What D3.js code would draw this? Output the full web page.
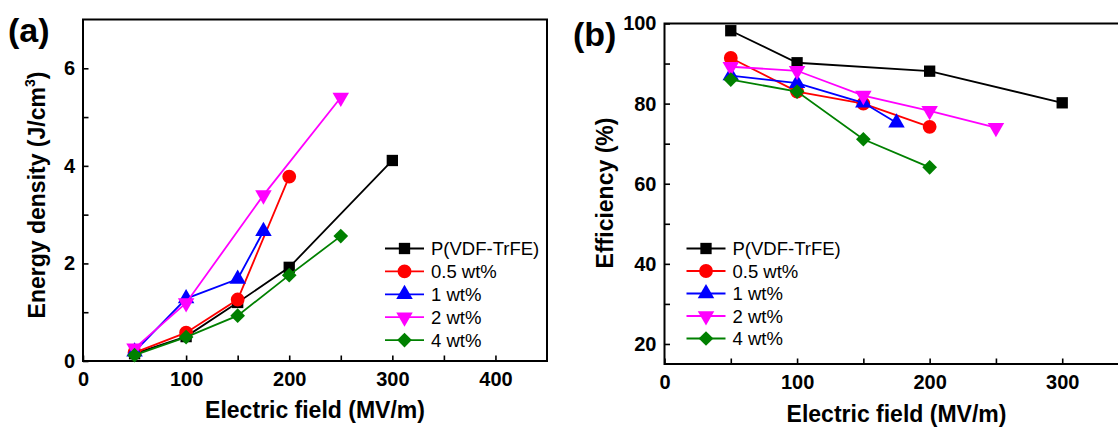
<!DOCTYPE html>
<html>
<head>
<meta charset="utf-8">
<script src="https://cdn.jsdelivr.net/npm/d3@7"></script>
<style>
  body { margin: 0; background: #fff; }
  svg { display: block; font-family: "Liberation Sans", Arial, Helvetica, sans-serif; }
</style>
</head>
<body>
<svg id="chart" width="1118" height="429"></svg>
<script>
// series shared by both panels
const seriesNames = ["P(VDF-TrFE)", "0.5 wt%", "1 wt%", "2 wt%", "4 wt%"];
const seriesColors = ["#000000", "#ff0000", "#0000ff", "#ff00ff", "#008000"];
const seriesSymbols = ["square", "circle", "triangle", "triangleDown", "diamond"];

// (a) energy density, J/cm3
const energyField = [
  [50, 100, 150, 200, 300],
  [50, 100, 150, 200],
  [50, 100, 150, 175],
  [50, 100, 175, 250],
  [50, 100, 150, 200, 250],
];
const energyValues = [
  [0.15, 0.5, 1.2, 1.92, 4.11],
  [0.17, 0.58, 1.26, 3.78],
  [0.19, 1.28, 1.68, 2.66],
  [0.26, 1.19, 3.4, 5.4],
  [0.12, 0.49, 0.93, 1.76, 2.56],
];

// (b) efficiency, %
const effField = [
  [50, 100, 200, 300],
  [50, 100, 150, 200],
  [50, 100, 150, 175],
  [50, 100, 150, 200, 250],
  [50, 100, 150, 200],
];
const effValues = [
  [98.2, 90.2, 88.1, 80.2],
  [91.4, 83, 80, 74.2],
  [87, 85.1, 80.2, 75.2],
  [89.2, 88.2, 82, 78.2, 74],
  [86, 83, 71.1, 64.1],
];

const xMajorA = [0, 100, 200, 300, 400];
const xMinorA = [50, 150, 250, 350];
const yMajorA = [0, 2, 4, 6];
const yMinorA = [1, 3, 5];
const xMajorB = [0, 100, 200, 300];
const xMinorB = [50, 150, 250];
const yMajorB = [20, 40, 60, 80, 100];
const yMinorB = [30, 50, 70, 90];

const svg = d3.select("#chart");

function symbolPath(kind) {
  const sym = d3.symbol();
  if (kind === "square") return sym.type(d3.symbolSquare).size(128)();
  if (kind === "circle") return sym.type(d3.symbolCircle).size(150)();
  if (kind === "diamond") return sym.type(d3.symbolSquare).size(108)();
  return sym.type(d3.symbolTriangle).size(118)();
}
function symbolRotate(kind) {
  if (kind === "diamond") return 45;
  if (kind === "triangleDown") return 180;
  return 0;
}

function drawMarker(sel, kind, color, x, y) {
  sel
    .append("path")
    .attr("d", symbolPath(kind))
    .attr("fill", color)
    .attr("transform", `translate(${x},${y}) rotate(${symbolRotate(kind)})`);
}

function styleAxis(g) {
  g.select(".domain").remove();
  g.selectAll(".tick line").attr("stroke", "#000").attr("stroke-width", 1.6);
  g.selectAll(".tick text")
    .attr("fill", "#000")
    .attr("font-size", 20)
    .attr("font-weight", "bold")
    .attr("font-family", "Liberation Sans, Arial, sans-serif");
}

function panel(o) {
  const { x, y } = o;
  const g = svg.append("g");
  const [x0, x1] = x.range();
  const [y0, y1] = y.range();

  // axes (ticks inward)
  g.append("g")
    .attr("transform", `translate(0,${y0})`)
    .call(d3.axisBottom(x).tickValues(o.xMajor).tickSizeInner(-5.5).tickSizeOuter(0).tickPadding(11).tickFormat(d3.format("d")))
    .call(styleAxis);
  g.append("g")
    .attr("transform", `translate(0,${y0})`)
    .call(d3.axisBottom(x).tickValues(o.xMinor).tickSizeInner(-5.5).tickSizeOuter(0).tickFormat(""))
    .call(styleAxis);
  g.append("g")
    .attr("transform", `translate(${x0},0)`)
    .call(d3.axisLeft(y).tickValues(o.yMajor).tickSizeInner(-5.5).tickSizeOuter(0).tickPadding(8).tickFormat(d3.format("d")))
    .call(styleAxis);
  g.append("g")
    .attr("transform", `translate(${x0},0)`)
    .call(d3.axisLeft(y).tickValues(o.yMinor).tickSizeInner(-5.5).tickSizeOuter(0).tickFormat(""))
    .call(styleAxis);

  g.append("rect")
    .attr("x", x0)
    .attr("y", y1)
    .attr("width", x1 - x0)
    .attr("height", y0 - y1)
    .attr("fill", "none")
    .attr("stroke", "#000")
    .attr("stroke-width", 2);

  const line = d3.line().x((d) => x(d[0])).y((d) => y(d[1]));
  seriesNames.forEach((name, i) => {
    const pts = o.fields[i].map((f, j) => [f, o.values[i][j]]);
    const s = g.append("g");
    s.append("path")
      .attr("d", line(pts))
      .attr("fill", "none")
      .attr("stroke", seriesColors[i])
      .attr("stroke-width", 1.8);
    pts.forEach((p) => drawMarker(s, seriesSymbols[i], seriesColors[i], x(p[0]), y(p[1])));
  });

  // legend
  const lg = g.append("g").attr("transform", `translate(${o.legend[0]},${o.legend[1]})`);
  seriesNames.forEach((name, i) => {
    const row = lg.append("g").attr("transform", `translate(0,${i * o.legendStep})`);
    row.append("line")
      .attr("x1", 0).attr("x2", 39)
      .attr("stroke", seriesColors[i]).attr("stroke-width", 1.8);
    drawMarker(row, seriesSymbols[i], seriesColors[i], 19.5, 0);
    row.append("text")
      .attr("x", 46)
      .attr("dy", "0.36em")
      .attr("font-size", 18.5)
      .text(name);
  });

  // panel label
  g.append("text")
    .attr("x", o.label[0]).attr("y", o.label[1])
    .attr("font-size", 34).attr("font-weight", "bold")
    .text(o.labelText);

  // x title
  g.append("text")
    .attr("x", (x0 + x1) / 2).attr("y", o.xTitleY)
    .attr("text-anchor", "middle")
    .attr("font-size", 23).attr("font-weight", "bold")
    .text("Electric field (MV/m)");

  // y title
  const yt = g.append("text")
    .attr("transform", `translate(${o.yTitle[0]},${o.yTitle[1]}) rotate(-90)`)
    .attr("text-anchor", "middle")
    .attr("font-size", 23).attr("font-weight", "bold");
  o.yTitleText(yt);
}

panel({
  x: d3.scaleLinear([0, 450], [83, 547]),
  y: d3.scaleLinear([0, 7], [361, 19.5]),
  xMajor: xMajorA, xMinor: xMinorA, yMajor: yMajorA, yMinor: yMinorA,
  fields: energyField, values: energyValues,
  legend: [385, 248.5], legendStep: 22.9,
  label: [8, 42], labelText: "(a)",
  xTitleY: 418,
  yTitle: [45, 195],
  yTitleText: (t) => {
    t.append("tspan").text("Energy density (J/cm");
    t.append("tspan").attr("font-size", 14).attr("dy", -10).text("3");
    t.append("tspan").attr("dy", 10).text(")");
  },
});

panel({
  x: d3.scaleLinear([0, 350], [664.5, 1128.5]),
  y: d3.scaleLinear([15, 100], [364, 23.5]),
  xMajor: xMajorB, xMinor: xMinorB, yMajor: yMajorB, yMinor: yMinorB,
  fields: effField, values: effValues,
  legend: [686.5, 248.5], legendStep: 22.5,
  label: [573, 46], labelText: "(b)",
  xTitleY: 422,
  yTitle: [613, 193],
  yTitleText: (t) => t.text("Efficiency (%)"),
});
</script>
</body>
</html>
